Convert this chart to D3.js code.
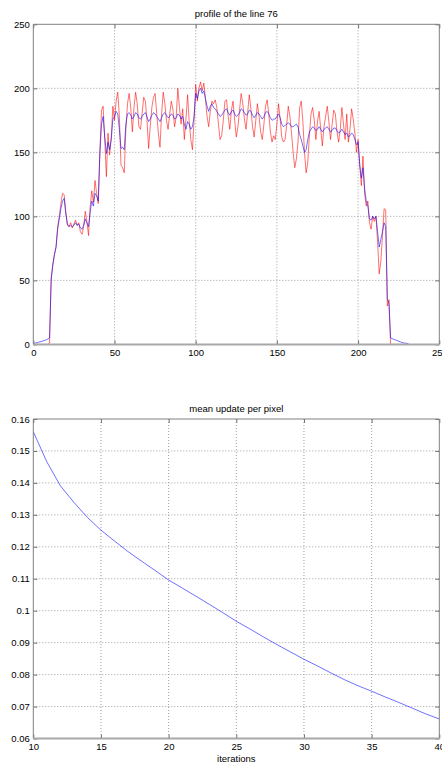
<!DOCTYPE html>
<html>
<head>
<meta charset="utf-8">
<script src="https://cdn.jsdelivr.net/npm/d3@7"></script>
<style>
  body { margin: 0; background: #fff; }
  svg text { font-family: "Liberation Sans", Arial, sans-serif; }
</style>
</head>
<body>
<div id="chart"></div>
<script>
// profile of the line 76 : raw (red) and restored (blue), index 0..232
var profileRed = [
  0, 0, 0, 0, 0, 0, 0, 0, 0, 0,
  1, 52, 62, 70, 76, 92, 100, 110, 118, 117,
  104, 93, 92, 95, 91, 94, 97, 93, 95, 88,
  86, 92, 104, 96, 85, 107, 120, 111, 128, 118,
  110, 150, 183, 186, 160, 131, 165, 148, 162, 186,
  175, 190, 197, 178, 140, 138, 134, 168, 188, 196,
  185, 166, 185, 197, 188, 170, 168, 180, 193, 190,
  175, 153, 170, 185, 193, 196, 180, 165, 154, 180,
  197, 188, 175, 168, 180, 190, 183, 170, 178, 200,
  185, 172, 184, 160, 176, 195, 174, 160, 152, 175,
  203, 190, 200, 205, 198, 204, 192, 178, 170, 182,
  190, 188, 191, 185, 172, 160, 163, 175, 190, 191,
  178, 168, 183, 190, 175, 162, 170, 183, 196, 188,
  176, 168, 181, 195, 184, 170, 162, 175, 188, 178,
  166, 160, 172, 186, 191, 180, 166, 158, 163, 160,
  172, 188, 176, 162, 158, 160, 171, 186, 178, 165,
  150, 138, 145, 158, 185, 190, 174, 150, 134, 142,
  163, 180, 185, 175, 160, 174, 182, 168, 155, 170,
  178, 186, 174, 160, 172, 183, 180, 166, 158, 168,
  185, 172, 160, 180, 158, 168, 184, 176, 165, 150,
  160, 140, 124, 147, 118, 108, 112, 95, 90, 100,
  96, 100, 80, 55, 65, 85, 106, 105, 30, 35,
  0, 0, 0, 0, 0, 0, 0, 0, 0, 0,
  0, 0, 0
];

var profileBlue = [
  0.8, 1, 1.3, 1.6, 2, 2.3, 2.7, 3.1, 3.6, 4.2,
  5, 50, 62, 70, 76, 90, 98, 106, 112, 114,
  102, 94, 92, 93, 92, 93, 95, 93, 94, 91,
  90, 93, 98, 95, 92, 103, 112, 108, 118, 116,
  112, 150, 172, 178, 162, 149, 158, 152, 160, 176,
  178, 182, 180, 168, 153, 154, 152, 172, 180, 181,
  179, 176, 178, 181, 180, 177, 176, 178, 180, 181,
  178, 174, 176, 179, 181, 180, 178, 176, 174, 177,
  180, 181, 179, 177, 178, 180, 179, 176, 177, 180,
  179, 176, 178, 172, 168, 174, 172, 168, 170, 178,
  196, 192, 198, 200, 196, 198, 192, 186, 182, 186,
  188, 185, 184, 182, 180, 178, 179, 181, 183, 184,
  181, 179, 182, 183, 180, 178, 179, 181, 184, 183,
  181, 179, 180, 183, 182, 179, 177, 179, 181, 180,
  178, 176, 178, 181, 182, 180, 177, 175, 176, 176,
  178, 180, 177, 172, 170, 171, 172, 173, 172, 170,
  170, 171, 172, 170, 164, 160, 155, 150, 152, 160,
  166, 168, 170, 169, 167, 168, 170, 168, 166, 168,
  169, 170, 168, 166, 167, 169, 169, 167, 165, 166,
  168, 166, 164, 165, 162, 163, 165, 164, 160, 156,
  158, 140, 130, 138, 122, 112, 108, 98, 97, 100,
  98, 100, 88, 76, 82, 88, 95, 92, 35, 32,
  5, 4.5, 4, 3.5, 3, 2.5, 2, 1.5, 1.2, 1,
  0.8, 0.5
];

// mean update per pixel, iterations 10..40
var iterations = [10, 11, 12, 13, 14, 15, 16, 17, 18, 19, 20, 21, 22, 23, 24, 25,
  26, 27, 28, 29, 30, 31, 32, 33, 34, 35, 36, 37, 38, 39, 40];
var meanUpdate = [0.1560, 0.1466, 0.1391, 0.1339, 0.1292, 0.1252, 0.1218, 0.1185,
  0.1155, 0.1126, 0.1096, 0.1071, 0.1046, 0.1020, 0.0994, 0.0967, 0.0943, 0.0918,
  0.0894, 0.0871, 0.0848, 0.0827, 0.0805, 0.0784, 0.0765, 0.0748, 0.0730, 0.0713,
  0.0695, 0.0677, 0.0661];

var profileXTicks = [0, 50, 100, 150, 200, 250];
var profileYTicks = [0, 50, 100, 150, 200, 250];
var iterXTicks = [10, 15, 20, 25, 30, 35, 40];
var updateYTicks = [0.06, 0.07, 0.08, 0.09, 0.1, 0.11, 0.12, 0.13, 0.14, 0.15, 0.16];

var W = 442, H = 765;
var fontSize = "9.5px";

var svg = d3.select("#chart")
  .append("svg")
    .attr("width", W)
    .attr("height", H);

// draws one matlab-like axes box, returns the plot group
function panel(opt) {
  var w = opt.right - opt.left,
      h = opt.bottom - opt.top;
  var x = d3.scaleLinear().domain(opt.xDomain).range([0, w]);
  var y = d3.scaleLinear().domain(opt.yDomain).range([h, 0]);

  var g = svg.append("g")
    .attr("transform", "translate(" + opt.left + "," + opt.top + ")");

  // dotted grid
  g.append("g").selectAll("line.gx")
    .data(opt.xTicks.slice(1, -1))
    .enter().append("line")
      .attr("x1", d => x(d)).attr("x2", d => x(d))
      .attr("y1", 0).attr("y2", h)
      .attr("stroke", "#a0a0a0")
      .attr("stroke-dasharray", "1,2");
  g.append("g").selectAll("line.gy")
    .data(opt.yTicks.slice(1, -1))
    .enter().append("line")
      .attr("x1", 0).attr("x2", w)
      .attr("y1", d => y(d)).attr("y2", d => y(d))
      .attr("stroke", "#a0a0a0")
      .attr("stroke-dasharray", "1,2");

  // series
  opt.series.forEach(function(s) {
    var line = d3.line()
      .x((d, i) => x(s.xs[i]))
      .y(d => y(d));
    g.append("path")
      .datum(s.ys)
      .attr("fill", "none")
      .attr("stroke", s.color)
      .attr("stroke-opacity", 0.75)
      .attr("stroke-width", 0.75)
      .attr("d", line);
  });

  // axes with inward ticks
  var fmt = opt.format || (d => d);
  var axB = g.append("g")
    .attr("transform", "translate(0," + h + ")")
    .call(d3.axisBottom(x).tickValues(opt.xTicks).tickFormat(fmt)
      .tickSizeInner(-4).tickSizeOuter(0).tickPadding(5));
  var axL = g.append("g")
    .call(d3.axisLeft(y).tickValues(opt.yTicks).tickFormat(opt.yFormat || fmt)
      .tickSizeInner(-4).tickSizeOuter(0).tickPadding(3.5));
  var axT = g.append("g")
    .call(d3.axisTop(x).tickValues(opt.xTicks).tickFormat("")
      .tickSizeInner(-4).tickSizeOuter(0));
  var axR = g.append("g")
    .attr("transform", "translate(" + w + ",0)")
    .call(d3.axisRight(y).tickValues(opt.yTicks).tickFormat("")
      .tickSizeInner(-4).tickSizeOuter(0));

  [axB, axL, axT, axR].forEach(function(a) {
    a.select(".domain").remove();
    a.selectAll(".tick line").attr("stroke", "#707070");
    a.selectAll("text")
      .attr("fill", "#000")
      .style("font-family", "'Liberation Sans', Arial, sans-serif")
      .style("font-size", fontSize);
  });

  // box
  g.append("path")
    .attr("d", "M0," + h + "V0H" + w + "V" + h)
    .attr("fill", "none")
    .attr("stroke", "#808080")
    .attr("stroke-width", 1);
  g.append("line")
    .attr("x1", 0).attr("x2", w)
    .attr("y1", h).attr("y2", h)
    .attr("stroke", "#a8a8a8")
    .attr("stroke-width", 2);

  // title
  g.append("text")
    .attr("x", w / 2)
    .attr("y", opt.titleY - opt.top)
    .attr("text-anchor", "middle")
    .style("font-size", fontSize)
    .text(opt.title);

  if (opt.xLabel) {
    g.append("text")
      .attr("x", w / 2)
      .attr("y", opt.xLabelY - opt.top)
      .attr("text-anchor", "middle")
      .style("font-size", fontSize)
      .text(opt.xLabel);
  }
  return g;
}

var profileIdx = d3.range(profileRed.length);
var blueIdx = d3.range(profileBlue.length);

panel({
  left: 33.3, right: 439.3, top: 24.3, bottom: 344.4,
  xDomain: [0, 250], yDomain: [0, 250],
  xTicks: profileXTicks, yTicks: profileYTicks,
  title: "profile of the line 76", titleY: 17,
  series: [
    {xs: profileIdx, ys: profileRed, color: "#ff0000"},
    {xs: blueIdx, ys: profileBlue, color: "#0000ff"}
  ]
});

panel({
  left: 33.3, right: 439.3, top: 419, bottom: 738.5,
  xDomain: [10, 40], yDomain: [0.06, 0.16],
  xTicks: iterXTicks, yTicks: updateYTicks,
  yFormat: d => String(+d.toFixed(2)),
  title: "mean update per pixel", titleY: 411.5,
  xLabel: "iterations", xLabelY: 761.5,
  series: [
    {xs: iterations, ys: meanUpdate, color: "#0000ff"}
  ]
});
</script>
</body>
</html>
